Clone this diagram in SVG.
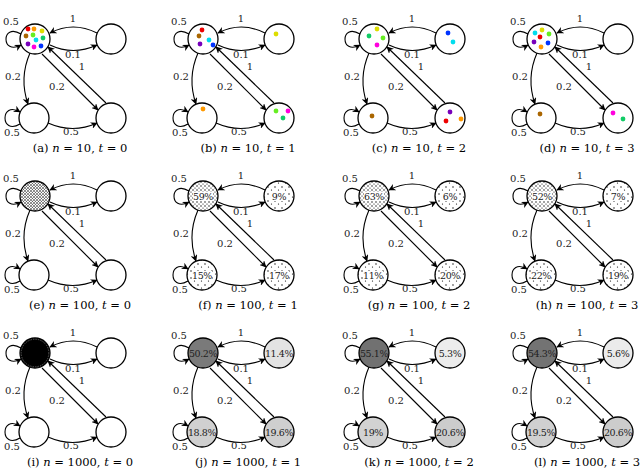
<svg xmlns="http://www.w3.org/2000/svg" xmlns:xlink="http://www.w3.org/1999/xlink" width="640" height="474" viewBox="0 0 640 474">
<style>
.n{fill:#fff;stroke:#000;stroke-width:1.3}
.e{fill:none;stroke:#000;stroke-width:1.1;marker-end:url(#ah)}
.l{font-family:"DejaVu Serif","Liberation Serif",serif;font-size:10px;text-anchor:middle;fill:#222}
.c{font-family:"DejaVu Serif","Liberation Serif",serif;font-size:11.5px;text-anchor:middle}
.p{font-family:"DejaVu Serif","Liberation Serif",serif;font-size:9.5px;text-anchor:middle;fill:#222;letter-spacing:-0.4px}
</style>
<defs>
<marker id="ah" viewBox="0 0 10 10" refX="9" refY="5" markerWidth="7" markerHeight="7" orient="auto" markerUnits="userSpaceOnUse"><path d="M0,0 L10,5 L0,10 L3,5 Z" fill="#000"/></marker>
<pattern id="pd" width="3" height="3" patternUnits="userSpaceOnUse"><rect width="3" height="3" fill="#fff"/><circle cx="1" cy="1" r="0.8" fill="#000"/><circle cx="2.4" cy="2.3" r="0.5" fill="#000"/></pattern>
<pattern id="pm" width="4" height="4" patternUnits="userSpaceOnUse"><rect width="4" height="4" fill="#fff"/><circle cx="1" cy="1" r="0.7" fill="#000"/><circle cx="3" cy="3" r="0.6" fill="#000"/></pattern>
<pattern id="ps" width="7" height="7" patternUnits="userSpaceOnUse"><rect width="7" height="7" fill="#fff"/><circle cx="2" cy="2" r="0.7" fill="#000"/><circle cx="5.5" cy="5" r="0.6" fill="#000"/></pattern>
<g id="E">
<path class="e" d="M97,33 Q73,21 50,33"/>
<path class="e" d="M50,45 Q73,56 97,45"/>
<path class="e" d="M21,34 C1,22 1,56 21,45"/>
<path class="e" d="M30,53 Q19,78 28,104"/>
<path class="e" d="M42,54 L98,110"/>
<path class="e" d="M106,103 L48,47"/>
<path class="e" d="M20,124 C0,136 0,100 20,112"/>
<path class="e" d="M48,123 Q73,134 97,123"/>
<text class="l" x="73" y="22">1</text>
<text class="l" x="73" y="58">0.1</text>
<text class="l" x="11" y="25">0.5</text>
<text class="l" x="13" y="80">0.2</text>
<text class="l" x="57" y="90">0.2</text>
<text class="l" x="82" y="70">1</text>
<text class="l" x="12" y="136">0.5</text>
<text class="l" x="71" y="135">0.5</text>
</g>
</defs>
<g id="connectors">
<use href="#E" x="0" y="0"/><use href="#E" x="168" y="0"/><use href="#E" x="339" y="0"/><use href="#E" x="507" y="0"/>
<use href="#E" x="0" y="157"/><use href="#E" x="168" y="157"/><use href="#E" x="339" y="157"/><use href="#E" x="507" y="157"/>
<use href="#E" x="0" y="314"/><use href="#E" x="168" y="314"/><use href="#E" x="339" y="314"/><use href="#E" x="507" y="314"/>
</g>
<g id="pa" transform="translate(0,0)">
<g id="a-tl"><circle class="n" cx="35" cy="39" r="15"/>
<circle cx="28" cy="29" r="2.4" fill="#e00"/><circle cx="34" cy="29" r="2.4" fill="#f90"/><circle cx="42" cy="31" r="2.4" fill="#dd0"/>
<circle cx="26" cy="36" r="2.4" fill="#a60"/><circle cx="33" cy="35" r="2.4" fill="#6e2"/><circle cx="36" cy="40" r="2.4" fill="#0de"/><circle cx="43" cy="38" r="2.4" fill="#1c6"/>
<circle cx="28" cy="44" r="2.4" fill="#70b"/><circle cx="34" cy="47" r="2.4" fill="#f0d"/><circle cx="41" cy="46" r="2.4" fill="#03f"/></g>
<g id="a-tr"><circle class="n" cx="111" cy="39" r="15"/></g>
<g id="a-bl"><circle class="n" cx="34" cy="118" r="15"/></g>
<g id="a-br"><circle class="n" cx="111" cy="118" r="15"/></g>
<text class="c" x="80" y="152">(a) <tspan font-style="italic">n</tspan> = 10, <tspan font-style="italic">t</tspan> = 0</text>
</g>
<g id="pb" transform="translate(168,0)">
<g id="b-tl"><circle class="n" cx="35" cy="39" r="15"/><circle cx="34" cy="30" r="2.4" fill="#e00"/><circle cx="31" cy="36" r="2.4" fill="#a60"/><circle cx="41" cy="40" r="2.4" fill="#0de"/><circle cx="32" cy="44" r="2.4" fill="#70b"/><circle cx="45" cy="45" r="2.4" fill="#03f"/></g>
<g id="b-tr"><circle class="n" cx="111" cy="39" r="15"/><circle cx="108" cy="34" r="2.4" fill="#dd0"/></g>
<g id="b-bl"><circle class="n" cx="34" cy="118" r="15"/><circle cx="35" cy="109" r="2.4" fill="#f90"/></g>
<g id="b-br"><circle class="n" cx="111" cy="118" r="15"/><circle cx="108" cy="111" r="2.4" fill="#6e2"/><circle cx="120" cy="111" r="2.4" fill="#f0d"/><circle cx="115" cy="118" r="2.4" fill="#1c6"/></g>
<text class="c" x="80" y="152">(b) <tspan font-style="italic">n</tspan> = 10, <tspan font-style="italic">t</tspan> = 1</text>
</g>
<g id="pc" transform="translate(339,0)">
<g id="c-tl"><circle class="n" cx="35" cy="39" r="15"/><circle cx="38" cy="29" r="2.4" fill="#dd0"/><circle cx="30" cy="36" r="2.4" fill="#1c6"/><circle cx="44" cy="38" r="2.4" fill="#6e2"/><circle cx="38" cy="45" r="2.4" fill="#f0d"/></g>
<g id="c-tr"><circle class="n" cx="111" cy="39" r="15"/><circle cx="109" cy="33" r="2.4" fill="#03f"/><circle cx="114" cy="42" r="2.4" fill="#0de"/></g>
<g id="c-bl"><circle class="n" cx="34" cy="118" r="15"/><circle cx="33" cy="116" r="2.4" fill="#a60"/></g>
<g id="c-br"><circle class="n" cx="111" cy="118" r="15"/><circle cx="111" cy="112" r="2.4" fill="#70b"/><circle cx="107" cy="121" r="2.4" fill="#e00"/><circle cx="122" cy="119" r="2.4" fill="#f90"/></g>
<text class="c" x="80" y="152">(c) <tspan font-style="italic">n</tspan> = 10, <tspan font-style="italic">t</tspan> = 2</text>
</g>
<g id="pd_" transform="translate(507,0)">
<g id="d-tl"><circle class="n" cx="35" cy="39" r="15"/><circle cx="28" cy="33" r="2.4" fill="#0de"/><circle cx="35" cy="30" r="2.4" fill="#dd0"/><circle cx="42" cy="34" r="2.4" fill="#6e2"/><circle cx="33" cy="37" r="2.4" fill="#e00"/><circle cx="27" cy="42" r="2.4" fill="#70b"/><circle cx="41" cy="43" r="2.4" fill="#03f"/><circle cx="34" cy="47" r="2.4" fill="#f90"/></g>
<g id="d-tr"><circle class="n" cx="111" cy="39" r="15"/></g>
<g id="d-bl"><circle class="n" cx="34" cy="118" r="15"/><circle cx="33" cy="114" r="2.4" fill="#a60"/></g>
<g id="d-br"><circle class="n" cx="111" cy="118" r="15"/><circle cx="106" cy="113" r="2.4" fill="#f0d"/><circle cx="116" cy="119" r="2.4" fill="#1c6"/></g>
<text class="c" x="80" y="152">(d) <tspan font-style="italic">n</tspan> = 10, <tspan font-style="italic">t</tspan> = 3</text>
</g>
<g id="pe" transform="translate(0,157)">
<g id="e-tl"><circle class="n" cx="35" cy="39" r="15" style="fill:url(#pd)"/></g>
<g id="e-tr"><circle class="n" cx="111" cy="39" r="15"/></g>
<g id="e-bl"><circle class="n" cx="34" cy="118" r="15"/></g>
<g id="e-br"><circle class="n" cx="111" cy="118" r="15"/></g>
<text class="c" x="80" y="152">(e) <tspan font-style="italic">n</tspan> = 100, <tspan font-style="italic">t</tspan> = 0</text>
</g>
<g id="pf" transform="translate(168,157)">
<g id="f-tl"><circle class="n" cx="35" cy="39" r="15" style="fill:url(#pm)"/><rect x="25" y="35" width="20" height="9" fill="#fff"/><text class="p" x="35" y="43">59%</text></g>
<g id="f-tr"><circle class="n" cx="111" cy="39" r="15" style="fill:url(#ps)"/><rect x="103" y="35" width="16" height="9" fill="#fff"/><text class="p" x="111" y="43">9%</text></g>
<g id="f-bl"><circle class="n" cx="34" cy="118" r="15" style="fill:url(#ps)"/><rect x="24" y="114" width="20" height="9" fill="#fff"/><text class="p" x="34" y="122">15%</text></g>
<g id="f-br"><circle class="n" cx="111" cy="118" r="15" style="fill:url(#ps)"/><rect x="101" y="114" width="20" height="9" fill="#fff"/><text class="p" x="111" y="122">17%</text></g>
<text class="c" x="80" y="152">(f) <tspan font-style="italic">n</tspan> = 100, <tspan font-style="italic">t</tspan> = 1</text>
</g>
<g id="pg" transform="translate(339,157)">
<g id="g-tl"><circle class="n" cx="35" cy="39" r="15" style="fill:url(#pm)"/><rect x="25" y="35" width="20" height="9" fill="#fff"/><text class="p" x="35" y="43">63%</text></g>
<g id="g-tr"><circle class="n" cx="111" cy="39" r="15" style="fill:url(#ps)"/><rect x="103" y="35" width="16" height="9" fill="#fff"/><text class="p" x="111" y="43">6%</text></g>
<g id="g-bl"><circle class="n" cx="34" cy="118" r="15" style="fill:url(#ps)"/><rect x="24" y="114" width="20" height="9" fill="#fff"/><text class="p" x="34" y="122">11%</text></g>
<g id="g-br"><circle class="n" cx="111" cy="118" r="15" style="fill:url(#ps)"/><rect x="101" y="114" width="20" height="9" fill="#fff"/><text class="p" x="111" y="122">20%</text></g>
<text class="c" x="80" y="152">(g) <tspan font-style="italic">n</tspan> = 100, <tspan font-style="italic">t</tspan> = 2</text>
</g>
<g id="ph" transform="translate(507,157)">
<g id="h-tl"><circle class="n" cx="35" cy="39" r="15" style="fill:url(#pm)"/><rect x="25" y="35" width="20" height="9" fill="#fff"/><text class="p" x="35" y="43">52%</text></g>
<g id="h-tr"><circle class="n" cx="111" cy="39" r="15" style="fill:url(#ps)"/><rect x="103" y="35" width="16" height="9" fill="#fff"/><text class="p" x="111" y="43">7%</text></g>
<g id="h-bl"><circle class="n" cx="34" cy="118" r="15" style="fill:url(#ps)"/><rect x="24" y="114" width="20" height="9" fill="#fff"/><text class="p" x="34" y="122">22%</text></g>
<g id="h-br"><circle class="n" cx="111" cy="118" r="15" style="fill:url(#ps)"/><rect x="101" y="114" width="20" height="9" fill="#fff"/><text class="p" x="111" y="122">19%</text></g>
<text class="c" x="80" y="152">(h) <tspan font-style="italic">n</tspan> = 100, <tspan font-style="italic">t</tspan> = 3</text>
</g>
<g id="pi" transform="translate(0,314)">
<g id="i-tl"><circle class="n" cx="35" cy="39" r="15" style="fill:#000"/><circle cx="35" cy="39" r="13.8" fill="none" stroke="#888" stroke-width="0.6" stroke-dasharray="1.5,1"/></g>
<g id="i-tr"><circle class="n" cx="111" cy="39" r="15"/></g>
<g id="i-bl"><circle class="n" cx="34" cy="118" r="15"/></g>
<g id="i-br"><circle class="n" cx="111" cy="118" r="15"/></g>
<text class="c" x="80" y="152">(i) <tspan font-style="italic">n</tspan> = 1000, <tspan font-style="italic">t</tspan> = 0</text>
</g>
<g id="pj" transform="translate(168,314)">
<g id="j-tl"><circle class="n" cx="35" cy="39" r="15" style="fill:#7a7a7a"/><text class="p" x="35" y="43">50.2%</text></g>
<g id="j-tr"><circle class="n" cx="111" cy="39" r="15" style="fill:#e3e3e3"/><text class="p" x="111" y="43">11.4%</text></g>
<g id="j-bl"><circle class="n" cx="34" cy="118" r="15" style="fill:#d0d0d0"/><text class="p" x="34" y="122">18.8%</text></g>
<g id="j-br"><circle class="n" cx="111" cy="118" r="15" style="fill:#cfcfcf"/><text class="p" x="111" y="122">19.6%</text></g>
<text class="c" x="80" y="152">(j) <tspan font-style="italic">n</tspan> = 1000, <tspan font-style="italic">t</tspan> = 1</text>
</g>
<g id="pk" transform="translate(339,314)">
<g id="k-tl"><circle class="n" cx="35" cy="39" r="15" style="fill:#717171"/><text class="p" x="35" y="43">55.1%</text></g>
<g id="k-tr"><circle class="n" cx="111" cy="39" r="15" style="fill:#ececec"/><text class="p" x="111" y="43">5.3%</text></g>
<g id="k-bl"><circle class="n" cx="34" cy="118" r="15" style="fill:#d2d2d2"/><text class="p" x="34" y="122">19%</text></g>
<g id="k-br"><circle class="n" cx="111" cy="118" r="15" style="fill:#cccccc"/><text class="p" x="111" y="122">20.6%</text></g>
<text class="c" x="80" y="152">(k) <tspan font-style="italic">n</tspan> = 1000, <tspan font-style="italic">t</tspan> = 2</text>
</g>
<g id="pl" transform="translate(507,314)">
<g id="l-tl"><circle class="n" cx="35" cy="39" r="15" style="fill:#737373"/><text class="p" x="35" y="43">54.3%</text></g>
<g id="l-tr"><circle class="n" cx="111" cy="39" r="15" style="fill:#ebebeb"/><text class="p" x="111" y="43">5.6%</text></g>
<g id="l-bl"><circle class="n" cx="34" cy="118" r="15" style="fill:#d0d0d0"/><text class="p" x="34" y="122">19.5%</text></g>
<g id="l-br"><circle class="n" cx="111" cy="118" r="15" style="fill:#cccccc"/><text class="p" x="111" y="122">20.6%</text></g>
<text class="c" x="80" y="152">(l) <tspan font-style="italic">n</tspan> = 1000, <tspan font-style="italic">t</tspan> = 3</text>
</g>
</svg>
